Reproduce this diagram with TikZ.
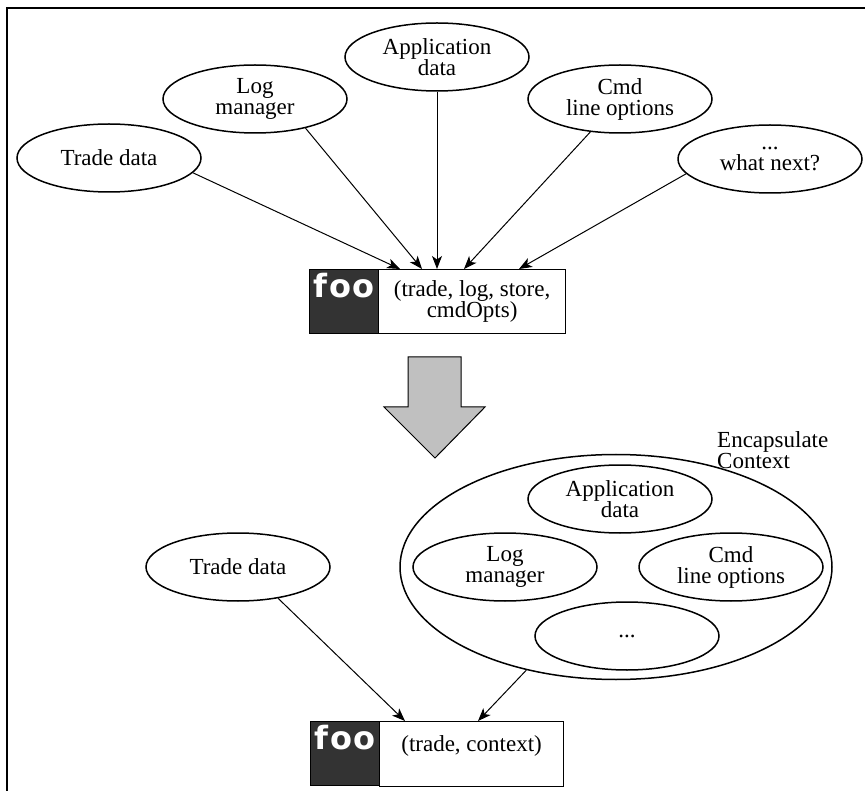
\documentclass[tikz,border=0pt]{standalone}
\usepackage{fontspec}
\setmainfont{Liberation Serif}
\newfontfamily\txtfont{Liberation Serif}
\newfontfamily\foofont[LetterSpace=4]{DejaVu Sans}
\usetikzlibrary{shapes.geometric,arrows.meta}
\definecolor{darkgray}{HTML}{333333}
\definecolor{arrowgray}{HTML}{C0C0C0}
\begin{document}
\begin{tikzpicture}[x=1pt,y=-1pt,
  every node/.style={font=\txtfont\fontsize{23}{21}\selectfont},
  oval/.style={ellipse,draw,line width=1.5pt,minimum width=184pt,minimum height=68pt,inner sep=0pt,align=center},
  bigoval/.style={ellipse,draw,line width=1.5pt,minimum width=432pt,minimum height=225pt,inner sep=0pt},
  edge/.style={draw,line width=1pt,-{Stealth[length=13pt,width=10pt,inset=3.5pt]}},
  darkbox/.style={rectangle,draw,fill=darkgray,line width=1.2pt,minimum width=69pt,minimum height=64pt,inner sep=0pt,text=white,font=\foofont\bfseries\fontsize{32}{32}\selectfont,text height=28pt,text depth=36pt,anchor=north west},
  argbox/.style={rectangle,draw,fill=white,line width=1.2pt,minimum width=187pt,minimum height=64pt,inner sep=0pt,align=center,anchor=north west},
  plain/.style={inner sep=0pt,align=left,anchor=north west}
]
\useasboundingbox (0,0) rectangle (865,791);
\draw[line width=2pt] (7,791) -- (7,8) -- (865,8);

% top part
\node[oval] (trade) at (109,158) {Trade data};
\node[oval] (log) at (255,99) {Log\\manager};
\node[oval] (app) at (437,57) {Application\\data};
\node[oval] (cmd) at (620,99) {Cmd\\line options};
\node[oval] (next) at (770,159) {...\\what next?};

\node[darkbox] (foo1) at (309,269) {foo};
\node[argbox] (args1) at (378,269) {(trade, log, store,\\cmdOpts)};

\coordinate (e1) at (400,269);
\coordinate (e2) at (422,269);
\coordinate (e3) at (437,269);
\coordinate (e4) at (464,269);
\coordinate (e5) at (519,269);
\draw[edge] (trade.-10) -- (e1);
\draw[edge] (log.-30) -- (e2);
\draw[edge] (app.-90) -- (e3);
\draw[edge] (cmd.-132) -- (e4);
\draw[edge] (next.190) -- (e5);

% big arrow
\draw[fill=arrowgray,line width=1pt] (408,357) -- (461,357) -- (461,407) -- (485,407) -- (435,458) -- (384,407) -- (408,407) -- cycle;

% bottom part
\node[plain] (enc) at (717,431) {Encapsulate\\Context};
\node[bigoval] (ctx) at (616,567) {};
\node[oval] (app2) at (620,499) {Application\\data};
\node[oval] (log2) at (505,567) {Log\\manager};
\node[oval] (cmd2) at (731,567) {Cmd\\line options};
\node[oval] (more) at (627,636) {...};
\node[oval] (trade2) at (238,567) {Trade data};

\node[darkbox] (foo2) at (310,721) {foo};
\node[argbox,minimum width=184pt,minimum height=65pt] (args2) at (379,721) {(trade, context)\\~};

\coordinate (f1) at (405,721);
\coordinate (f2) at (478,721);
\draw[edge] (trade2.-38) -- (f1);
\draw[edge] (ctx.-131) -- (f2);
\end{tikzpicture}
\end{document}
